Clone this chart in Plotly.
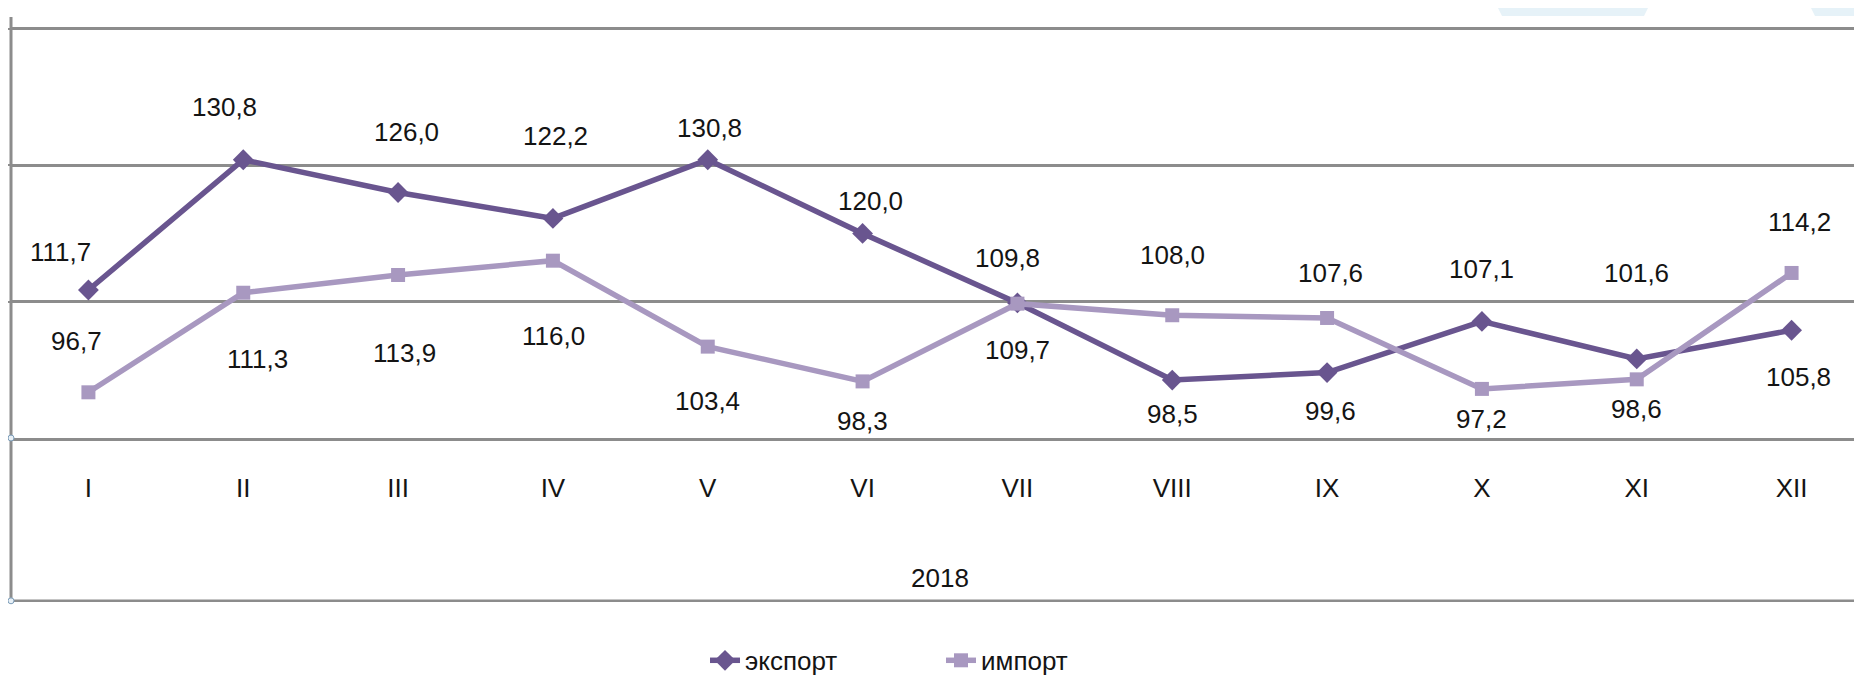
import plotly.graph_objects as go

# ---- data ----
months = ["I", "II", "III", "IV", "V", "VI", "VII", "VIII", "IX", "X", "XI", "XII"]
year_label = "2018"
export_vals = [111.7, 130.8, 126.0, 122.2, 130.8, 120.0, 109.8, 98.5, 99.6, 107.1, 101.6, 105.8]
import_vals = [96.7, 111.3, 113.9, 116.0, 103.4, 98.3, 109.7, 108.0, 107.6, 97.2, 98.6, 114.2]
series_names = ["экспорт", "импорт"]

# ---- label offsets (pixels, style only) ----
export_dx = [-28, -19, 8, 3, 2, 8, -10, 0, 3, 0, 0, 7]
export_dy = [-38, -53, -60, -82, -32, -32, -45, 34, 38, -52, -86, 47]
import_dx = [-12, 14, 6, 1, 0, 0, 0, 0, 3, 0, 0, 8]
import_dy = [-51, 66, 78, 75, 54, 40, 46, -60, -45, 30, 30, -51]

C_EXP = "#69558f"
C_IMP = "#a898c0"
GRID = "#8c8c8c"
FONT = "Liberation Sans, Arial, sans-serif"
TXT = "#141414"
FS = 26

fig = go.Figure()
fig.add_trace(go.Scatter(
    x=months, y=export_vals, name=series_names[0], mode="lines+markers",
    line=dict(color=C_EXP, width=5.5),
    marker=dict(symbol="diamond", size=16, color=C_EXP),
))
fig.add_trace(go.Scatter(
    x=months, y=import_vals, name=series_names[1], mode="lines+markers",
    line=dict(color=C_IMP, width=5.5),
    marker=dict(symbol="square", size=14, color=C_IMP),
))

def fmt(v):
    return f"{v:.1f}".replace(".", ",")

annotations = []
for vals, dxs, dys in [(export_vals, export_dx, export_dy), (import_vals, import_dx, import_dy)]:
    for m, v, dx, dy in zip(months, vals, dxs, dys):
        annotations.append(dict(
            x=m, y=v, xref="x", yref="y", text=fmt(v), showarrow=False,
            xanchor="center", yanchor="middle", xshift=dx, yshift=-dy,
            font=dict(family=FONT, size=FS, color=TXT),
        ))

# plot area geometry: top 14px, bottom 433px (height 419)
PH = 419.0
def py(pix):  # pixel row -> paper y
    return (433 - pix) / PH

annotations.append(dict(
    x=0.5, y=py(574), xref="paper", yref="paper", text=year_label, showarrow=False,
    xanchor="center", yanchor="middle",
    font=dict(family=FONT, size=FS, color=TXT),
))

line_style = dict(color=GRID, width=3)
shapes = [
    dict(type="line", xref="paper", yref="paper", x0=0, x1=0, y0=py(597), y1=py(9), line=line_style),
    dict(type="line", xref="paper", yref="paper", x0=1, x1=1, y0=py(597), y1=py(433), line=dict(color=GRID, width=2)),
    dict(type="line", xref="paper", yref="paper", x0=0, x1=1, y0=py(597), y1=py(597), line=dict(color=GRID, width=2.5)),
]
# faint light-blue shapes at top edge
PW = 1858.0
def pxp(pix):
    return (pix - 3) / PW
shapes.append(dict(type="path", xref="paper", yref="paper",
                   path=f"M {pxp(1490)} {py(0)} L {pxp(1640)} {py(0)} L {pxp(1636)} {py(8)} L {pxp(1494)} {py(8)} Z",
                   fillcolor="#e6f2f8", line=dict(width=0)))
shapes.append(dict(type="path", xref="paper", yref="paper",
                   path=f"M {pxp(1803)} {py(0)} L {pxp(1862)} {py(0)} L {pxp(1862)} {py(8)} L {pxp(1807)} {py(8)} Z",
                   fillcolor="#e6f2f8", line=dict(width=0)))
# small handle circles
for cx, cy in [(3, 433), (3, 597), (1861, 433), (1861, 597)]:
    shapes.append(dict(type="circle", xref="paper", yref="paper",
                       x0=pxp(cx - 3), x1=pxp(cx + 3), y0=py(cy + 3), y1=py(cy - 3),
                       fillcolor="#e8f0f6", line=dict(color="#7b9cb8", width=1)))

fig.update_layout(
    width=1862, height=677,
    margin=dict(l=3, r=1, t=14, b=244),
    paper_bgcolor="white", plot_bgcolor="white",
    font=dict(family=FONT, size=FS, color=TXT),
    showlegend=True,
    legend=dict(orientation="h", x=pxp(697), y=py(657), xanchor="left", yanchor="middle",
                font=dict(family=FONT, size=FS, color=TXT), entrywidth=191,
                bgcolor="rgba(0,0,0,0)"),
    annotations=annotations,
    shapes=shapes,
    xaxis=dict(type="category", range=[-0.5, 11.5], showgrid=False,
               showline=True, linecolor=GRID, linewidth=3,
               ticks="", ticklabelstandoff=25,
               tickfont=dict(family=FONT, size=FS, color=TXT), fixedrange=True),
    yaxis=dict(range=[90, 151], tick0=90, dtick=20, showgrid=True, gridcolor=GRID, gridwidth=3,
               showticklabels=False, ticks="outside", ticklen=3, tickcolor=GRID, tickwidth=2,
               zeroline=False, showline=False, fixedrange=True),
)

fig.write_html("out.html")
